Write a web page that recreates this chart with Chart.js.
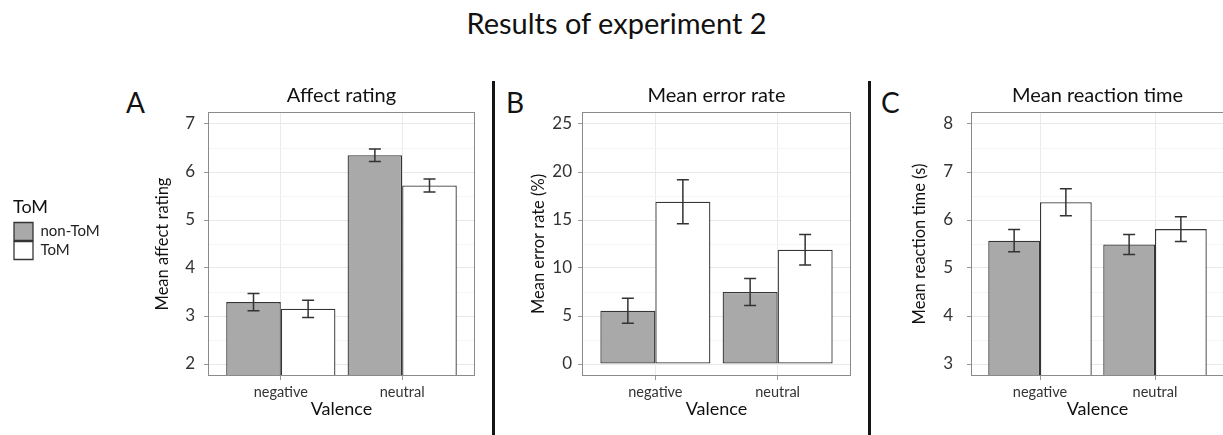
<!DOCTYPE html>
<html>
<head>
<meta charset="utf-8">
<script src="https://cdn.jsdelivr.net/npm/chart.js@4.4.1/dist/chart.umd.min.js"></script>
<style>
  html, body { margin: 0; padding: 0; overflow: hidden; }
  body { width: 1223px; height: 435px; position: relative; background: #fff; font-family: Lato, sans-serif; color: #111; }
  canvas { position: absolute; top: 60px; }
  .txt { position: absolute; white-space: nowrap; }
  #mainTitle { left: 0; top: 8px; width: 1233px; text-align: center; font-size: 29px; line-height: 29px; }
  .letter { top: 88px; font-size: 28px; line-height: 28px; }
  .divider { position: absolute; top: 81px; width: 3px; height: 354px; background: #151515; }
</style>
</head>
<body>
<div id="mainTitle" class="txt">Results of experiment 2</div>
<div class="txt letter" style="left:126px">A</div>
<div class="txt letter" style="left:506px">B</div>
<div class="txt letter" style="left:881px">C</div>
<div class="divider" style="left:492px"></div>
<div class="divider" style="left:868px"></div>
<canvas id="chartA" width="490" height="375" style="left:0px"></canvas>
<canvas id="chartB" width="370" height="375" style="left:500px"></canvas>
<canvas id="chartC" width="353" height="375" style="left:880px"></canvas>
<script>
// categories and groups
const valence = ['negative', 'neutral'];
const groups = ['non-ToM', 'ToM'];

// A: affect rating (means and error bar half-widths)
const affectNonToM = [3.29, 6.35];
const affectToM = [3.15, 5.72];
const affectNonToMErr = [0.18, 0.13];
const affectToMErr = [0.18, 0.135];
const affectTicks = [2, 3, 4, 5, 6, 7];

// B: error rate (%)
const errorNonToM = [5.55, 7.5];
const errorToM = [16.9, 11.9];
const errorNonToMErr = [1.3, 1.4];
const errorToMErr = [2.3, 1.6];
const errorTicks = [0, 5, 10, 15, 20, 25];

// C: reaction time (s)
const rtNonToM = [5.57, 5.49];
const rtToM = [6.37, 5.81];
const rtNonToMErr = [0.23, 0.21];
const rtToMErr = [0.28, 0.26];
const rtTicks = [3, 4, 5, 6, 7, 8];

Chart.defaults.font.family = 'Lato, sans-serif';

const CANVAS_TOP = 60, CANVAS_H = 375, AREA_BOTTOM = 376;

// error bars drawn from the y scale
const errorBars = {
  id: 'errorBars',
  afterDatasetsDraw(chart) {
    const ctx = chart.ctx, y = chart.scales.y;
    ctx.save();
    ctx.strokeStyle = '#333';
    ctx.lineWidth = 1.5;
    chart.data.datasets.forEach((ds, di) => {
      chart.getDatasetMeta(di).data.forEach((bar, i) => {
        const v = ds.data[i].y, e = ds.err[i];
        const top = y.getPixelForValue(v + e), bot = y.getPixelForValue(v - e);
        ctx.beginPath();
        ctx.moveTo(bar.x, top); ctx.lineTo(bar.x, bot);
        ctx.moveTo(bar.x - 6, top); ctx.lineTo(bar.x + 6, top);
        ctx.moveTo(bar.x - 6, bot); ctx.lineTo(bar.x + 6, bot);
        ctx.stroke();
      });
    });
    ctx.restore();
  }
};

// grey frame round the panel
const panelFrame = {
  id: 'panelFrame',
  afterDraw(chart) {
    const a = chart.chartArea, ctx = chart.ctx;
    ctx.save();
    ctx.strokeStyle = '#8a8a8a';
    ctx.lineWidth = 1;
    ctx.strokeRect(Math.round(a.left) + 0.5, Math.round(a.top) + 0.5,
      Math.round(a.right - a.left) - 1, Math.round(a.bottom - a.top) - 1);
    ctx.restore();
  }
};

function makePanel(id, cfg) {
  const ticks = cfg.ticks;
  const span = ticks[ticks.length - 1] - ticks[0];
  const yTicks = [];
  ticks.forEach((t, i) => {
    yTicks.push({ value: t });
    if (i < ticks.length - 1) yTicks.push({ value: (t + ticks[i + 1]) / 2, minor: true });
  });

  const barStyle = { borderColor: '#353535', borderWidth: 1.3, borderSkipped: false, categoryPercentage: 0.9, barPercentage: 1 };

  const chart = new Chart(document.getElementById(id), {
    type: 'bar',
    data: {
      datasets: [
        Object.assign({
          label: groups[0],
          data: cfg.nonToM.map((v, i) => ({ x: i + 1, y: v })),
          err: cfg.nonToMErr,
          backgroundColor: '#a9a9a9'
        }, barStyle),
        Object.assign({
          label: groups[1],
          data: cfg.toM.map((v, i) => ({ x: i + 1, y: v })),
          err: cfg.toMErr,
          backgroundColor: '#ffffff'
        }, barStyle)
      ]
    },
    options: {
      responsive: false,
      animation: false,
      events: [],
      layout: { padding: { left: cfg.padL, right: cfg.padR, top: 0, bottom: 0 } },
      plugins: {
        tooltip: { enabled: false },
        title: {
          display: true, text: cfg.title, fullSize: false,
          font: { size: 20, weight: 'normal' }, color: '#111',
          padding: { top: 24, bottom: 4 }
        },
        legend: cfg.legend ? {
          display: true, position: 'left', align: 'start',
          title: {
            display: true, text: 'ToM', position: 'start',
            font: { size: 18 }, color: '#111',
            padding: { top: 138.5, bottom: 1.4 }
          },
          labels: { boxWidth: 19, boxHeight: 18, padding: 1, font: { size: 15 }, color: '#222' }
        } : { display: false }
      },
      scales: {
        x: {
          type: 'linear',
          min: 0.4, max: valence.length + 0.6,
          offset: false,
          grid: { offset: false, color: '#ebebeb', tickLength: 4, tickColor: '#999' },
          border: { display: false },
          afterBuildTicks: s => { s.ticks = valence.map((v, i) => ({ value: i + 1 })); },
          ticks: {
            callback: (v, i) => valence[i],
            font: { size: 14.5 }, color: '#333', padding: 4, maxRotation: 0, autoSkip: false
          },
          title: { display: true, text: 'Valence', font: { size: 18 }, color: '#111', padding: { top: 0, bottom: 15.5 } },
          afterFit: s => { s.height = CANVAS_H - (AREA_BOTTOM - CANVAS_TOP); }
        },
        y: {
          min: ticks[0] - 0.05 * span,
          max: ticks[ticks.length - 1] + 0.05 * span,
          grid: {
            color: c => (c.tick && c.tick.minor) ? '#f5f5f5' : '#e8e8e8',
            tickColor: c => (c.tick && c.tick.minor) ? 'rgba(0,0,0,0)' : '#999',
            tickLength: 4
          },
          border: { display: false },
          afterBuildTicks: s => { s.ticks = yTicks.map(t => ({ ...t })); },
          ticks: {
            callback: (v, i, t) => t[i].minor ? '' : String(v),
            font: { size: 17 }, color: '#333', padding: cfg.tickPad, autoSkip: false
          },
          title: { display: true, text: cfg.yTitle, font: { size: 16.5 }, color: '#111', padding: { top: 0, bottom: 0 } },
          afterFit: s => {
            const lw = s.chart.legend ? s.chart.legend.width : 0;
            s.width = cfg.areaLeft - cfg.canvasLeft - cfg.padL - lw;
          }
        }
      }
    },
    plugins: [errorBars, panelFrame]
  });

  // place the y axis title at its x position
  const yLeft = chart.scales.y.left;
  chart.options.scales.y.title.padding = { top: cfg.yTitleX - cfg.canvasLeft - yLeft - 9.9, bottom: 0 };
  chart.update();
  return chart;
}

makePanel('chartA', {
  title: 'Affect rating', yTitle: 'Mean affect rating',
  nonToM: affectNonToM, toM: affectToM, nonToMErr: affectNonToMErr, toMErr: affectToMErr,
  ticks: affectTicks, legend: true,
  canvasLeft: 0, areaLeft: 208, padL: 13, padR: 15, tickPad: 9, yTitleX: 163
});

makePanel('chartB', {
  title: 'Mean error rate', yTitle: 'Mean error rate (%)',
  nonToM: errorNonToM, toM: errorToM, nonToMErr: errorNonToMErr, toMErr: errorToMErr,
  ticks: errorTicks, legend: false,
  canvasLeft: 500, areaLeft: 582, padL: 0, padR: 19, tickPad: 6, yTitleX: 539
});

makePanel('chartC', {
  title: 'Mean reaction time', yTitle: 'Mean reaction time (s)',
  nonToM: rtNonToM, toM: rtToM, nonToMErr: rtNonToMErr, toMErr: rtToMErr,
  ticks: rtTicks, legend: false,
  canvasLeft: 880, areaLeft: 971, padL: 0, padR: 9, tickPad: 14, yTitleX: 920
});
</script>
</body>
</html>
